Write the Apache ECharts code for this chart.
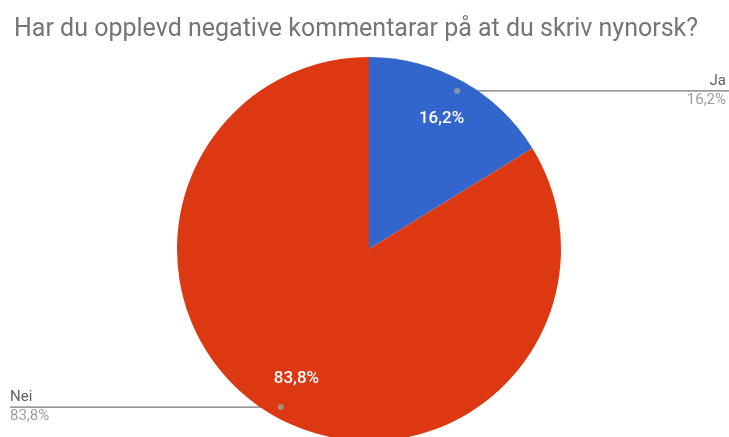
<!DOCTYPE html>
<html><head><meta charset="utf-8">
<script src="https://cdn.jsdelivr.net/npm/echarts@6/dist/echarts.min.js"></script>
<style>html,body{margin:0;padding:0;background:#fff}#c{width:729px;height:437px}</style>
</head><body><div id="c"></div>
<script>
var titleText = 'Har du opplevd negative kommentarar på at du skriv nynorsk?';
var categories = ['Ja', 'Nei'];
var values = [16.2, 83.8];
var labels = ['16,2%', '83,8%'];
var colors = ['#3366cc', '#dc3912'];

var CX = 369, CY = 249, R = 192;
var edgeDist = [3, 10];
var data = categories.map(function (c, i) { return { name: c, value: values[i], itemStyle: { color: colors[i] } }; });
var transparentData = categories.map(function (c, i) { return { name: c, value: values[i], itemStyle: { color: 'rgba(0,0,0,0)' } }; });
var outsideData = categories.map(function (c, i) { return { name: c, value: values[i], itemStyle: { color: 'rgba(0,0,0,0)' }, label: { edgeDistance: edgeDist[i] } }; });

// midpoints for the label-line dots
var total = values.reduce(function (a, b) { return a + b; }, 0);
var acc = 0, dots = [];
values.forEach(function (v) { dots.push([0.943, (acc + v / 2) / total * 100]); acc += v; });

var chart = echarts.init(document.getElementById('c'));
chart.setOption({
  animation: false,
  title: { text: titleText, left: 9, top: 12, textStyle: { fontFamily: 'Roboto', fontWeight: 'normal', fontSize: 25, color: '#757575' } },
  polar: { center: [CX, CY], radius: R },
  radiusAxis: { min: 0, max: 1, show: false },
  angleAxis: { min: 0, max: 100, startAngle: 90, clockwise: true, show: false },
  series: [
    { type: 'pie', center: [CX, CY], radius: [0, R], startAngle: 90, clockwise: true, label: { show: false }, labelLine: { show: false }, silent: true, data: data },
    { type: 'pie', center: [CX, CY], radius: [R * 0.52, R], startAngle: 90, clockwise: true, silent: true, data: transparentData,
      label: { show: true, position: 'inside', color: '#fff', fontFamily: 'Roboto', fontSize: 17, fontWeight: 500,
        formatter: function (p) { return labels[p.dataIndex]; } },
      labelLine: { show: false } },
    { type: 'pie', center: [CX, CY], radius: [0, R * 0.943], startAngle: 90, clockwise: true, silent: true, data: outsideData,
      label: { show: true, position: 'outside', alignTo: 'edge', edgeDistance: 3,
        formatter: function (p) { return '{a|' + p.name + '}\n{b|' + labels[p.dataIndex] + '}'; },
        rich: { a: { fontFamily: 'Roboto', fontSize: 15, color: '#616161', lineHeight: 19 },
                b: { fontFamily: 'Roboto', fontSize: 15, color: '#9e9e9e', lineHeight: 19 } } },
      labelLine: { show: true, length: 0, length2: 10, lineStyle: { color: '#777', width: 1.2 } },
      labelLayout: function (p) {
        var pts = p.labelLinePoints;
        if (!pts) return {};
        var y = pts[0][1];
        var right = pts[0][0] > CX;
        var endX = right ? chart.getWidth() : p.labelRect.x;
        return { labelLinePoints: [[pts[0][0], y], [pts[0][0], y], [endX, y]] };
      } },
    { type: 'scatter', coordinateSystem: 'polar', symbol: 'circle', symbolSize: 6, silent: true,
      itemStyle: { color: '#9e9e9e' }, data: dots }
  ]
});
</script></body></html>
